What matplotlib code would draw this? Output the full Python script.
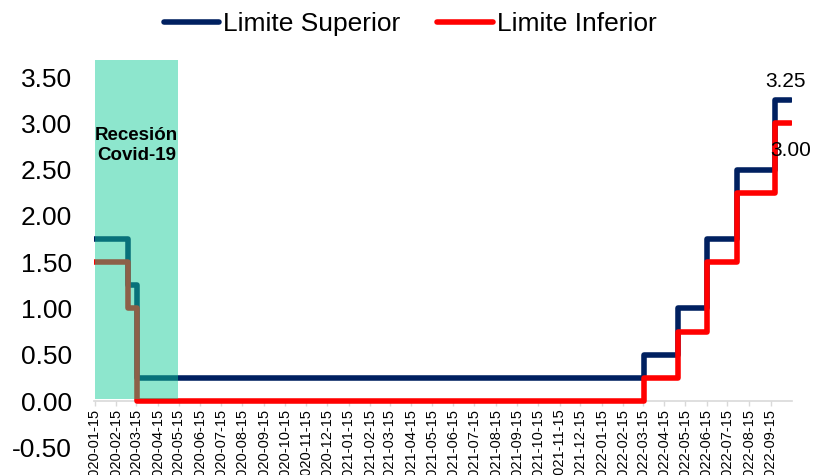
import matplotlib
matplotlib.use('Agg')
import matplotlib.pyplot as plt
import matplotlib.dates as mdates
import numpy as np
import pandas as pd

plt.rcParams['font.family'] = ['Liberation Sans', 'DejaVu Sans']

# Rate changes (step points), last entry is the end of the series
fechas = pd.to_datetime(['2020-01-14', '2020-03-03', '2020-03-16', '2022-03-17',
                         '2022-05-05', '2022-06-16', '2022-07-28', '2022-09-22',
                         '2022-10-15'])
limite_superior = [1.75, 1.25, 0.25, 0.50, 1.00, 1.75, 2.50, 3.25, 3.25]
limite_inferior = [1.50, 1.00, 0.00, 0.25, 0.75, 1.50, 2.25, 3.00, 3.00]

recesion_inicio = pd.Timestamp('2020-01-15')
recesion_fin = pd.Timestamp('2020-05-14')

ticks = pd.date_range('2020-01-01', '2022-09-01', freq='MS') + pd.Timedelta(days=14)

fig = plt.figure(figsize=(8.14, 4.75), dpi=100)
ax = fig.add_axes([0.1155, 0.0583, 0.8575, 0.8154])

ax.step(fechas, limite_superior, where='post', color='#002060', lw=4,
        solid_capstyle='round', label='Limite Superior', zorder=2)
ax.step(fechas, limite_inferior, where='post', color='#FF0000', lw=4,
        solid_capstyle='round', label='Limite Inferior', zorder=2)

ytop = 3.684
ax.fill_between([recesion_inicio, recesion_fin], 0.02, ytop, color=(17/255, 203/255, 151/255),
                alpha=0.48, lw=0, zorder=3)
ax.text(recesion_inicio + (recesion_fin - recesion_inicio) / 2, 2.76, 'Recesión\nCovid-19',
        ha='center', va='center', fontsize=13.5, fontweight='bold', linespacing=1.2, zorder=4)

ax.annotate('3.25', (fechas[-1], limite_superior[-1]), xytext=(-6, 19),
            textcoords='offset pixels', ha='center', va='center', fontsize=15)
ax.annotate('3.00', (fechas[-1], limite_inferior[-1]), xytext=(-1, -27),
            textcoords='offset pixels', ha='center', va='center', fontsize=15)

ax.set_xlim(pd.Timestamp('2020-01-14'), pd.Timestamp('2022-10-16'))
ax.set_ylim(-0.5, ytop)
ax.set_yticks(np.arange(-0.5, 3.51, 0.5))
ax.yaxis.set_major_formatter(plt.FormatStrFormatter('%.2f'))
ax.tick_params(axis='y', length=0, pad=16, labelsize=19)

ax.set_xticks(ticks)
ax.xaxis.set_major_formatter(mdates.DateFormatter('%Y-%m-%d'))
ax.tick_params(axis='x', length=3.5, width=1, color='#D9D9D9', pad=2, labelsize=10.5,
               labelrotation=90)

for s in ['top', 'right', 'left']:
    ax.spines[s].set_visible(False)
ax.spines['bottom'].set_position(('data', 0))
ax.spines['bottom'].set_color('#D9D9D9')
ax.spines['bottom'].set_linewidth(1.2)
ax.spines['bottom'].set_zorder(1)

fig.legend(loc='center', bbox_to_anchor=(0.504, 0.949), ncol=2, frameon=False,
           fontsize=19, handlelength=2.1, handletextpad=0.15, columnspacing=1.4)

plt.savefig('out.png', dpi=100)
